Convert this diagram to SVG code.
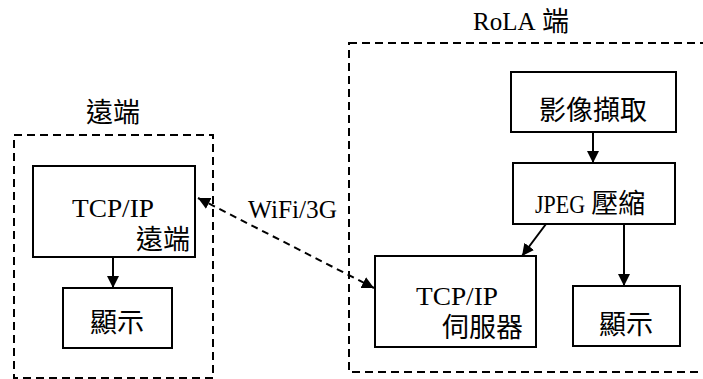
<svg xmlns="http://www.w3.org/2000/svg" width="703" height="379" viewBox="0 0 703 379">
<style>
.grp{fill:none;stroke:#000;stroke-width:2;stroke-dasharray:8 5}
.box{fill:#fff;stroke:#000;stroke-width:2}
.lat{font-family:"Liberation Serif","Times New Roman",serif;font-size:25px;fill:#000}
.cjk{font-family:"Noto Sans CJK TC","Noto Sans CJK SC",sans-serif;font-size:27px;fill:#000}
.edge{fill:none;stroke:#000;stroke-width:2}
.dash{fill:none;stroke:#000;stroke-width:2;stroke-dasharray:7 5}
</style>
<defs>
<marker id="ah" viewBox="0 0 10 10" refX="10" refY="5" markerWidth="6" markerHeight="6" markerUnits="strokeWidth" orient="auto-start-reverse">
<path d="M0,0 L10,5 L0,10 Z" fill="#000"/>
</marker>
</defs>
<rect width="703" height="379" fill="#fff"/>
<g id="remote-group">
<rect class="grp" x="14" y="135" width="199" height="243"/>
<text class="cjk" x="113" y="122" text-anchor="middle" font-size="25">遠端</text>
</g>
<g id="rola-group">
<rect class="grp" x="349" y="43" width="400" height="329"/>
<text class="lat" x="473" y="30">RoLA</text>
<text class="cjk" x="542" y="31" font-size="26">端</text>
</g>
<g id="tcp-remote">
<rect class="box" x="33" y="166" width="162" height="91"/>
<text class="lat" x="72" y="217" textLength="82" lengthAdjust="spacingAndGlyphs">TCP/IP</text>
<text class="cjk" x="190" y="249" text-anchor="end">遠端</text>
</g>
<g id="display-remote">
<rect class="box" x="63" y="288" width="109" height="60"/>
<text class="cjk" x="117" y="332" text-anchor="middle">顯示</text>
</g>
<g id="capture">
<rect class="box" x="511" y="72" width="165" height="60"/>
<text class="cjk" x="593" y="120" text-anchor="middle">影像擷取</text>
</g>
<g id="jpeg">
<rect class="box" x="513" y="163" width="162" height="61"/>
<text class="lat" x="535" y="213"><tspan textLength="50" lengthAdjust="spacingAndGlyphs">JPEG</tspan> <tspan class="cjk">壓縮</tspan></text>
</g>
<g id="tcp-server">
<rect class="box" x="375" y="256" width="161" height="91"/>
<text class="lat" x="416" y="305" textLength="82" lengthAdjust="spacingAndGlyphs">TCP/IP</text>
<text class="cjk" x="523" y="337" text-anchor="end">伺服器</text>
</g>
<g id="display-rola">
<rect class="box" x="573" y="286" width="107" height="60"/>
<text class="cjk" x="626" y="334" text-anchor="middle">顯示</text>
</g>
<g id="connectors">
<line class="edge" x1="113" y1="257" x2="113" y2="288" marker-end="url(#ah)"/>
<line class="edge" x1="593" y1="132" x2="593" y2="163" marker-end="url(#ah)"/>
<line class="edge" x1="546" y1="224" x2="522" y2="256" marker-end="url(#ah)"/>
<line class="edge" x1="624" y1="224" x2="624" y2="286" marker-end="url(#ah)"/>
<line class="dash" x1="198" y1="198" x2="374" y2="288" marker-start="url(#ah)" marker-end="url(#ah)"/>
<text class="lat" x="248" y="218" font-size="26" textLength="89" lengthAdjust="spacingAndGlyphs">WiFi/3G</text>
</g>
</svg>
